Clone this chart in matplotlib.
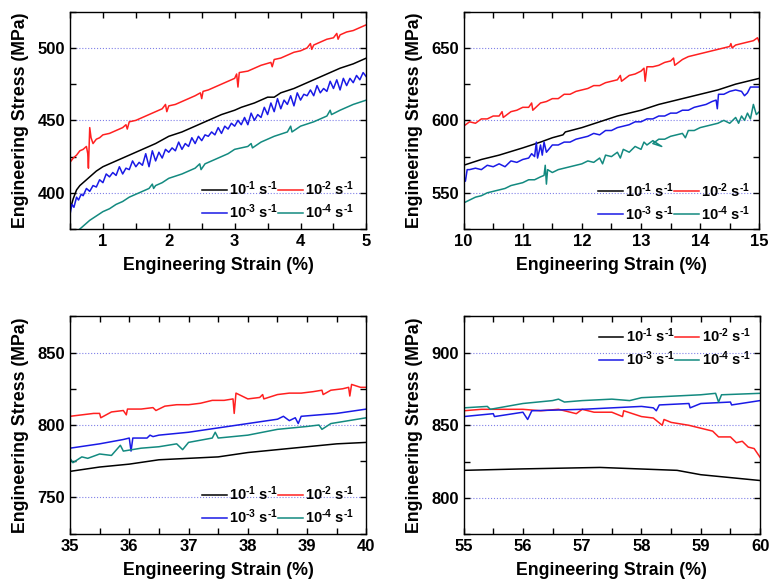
import matplotlib
matplotlib.use("Agg")
import matplotlib.pyplot as plt
from matplotlib.ticker import MultipleLocator

plt.rcParams['font.family'] = ['Liberation Sans', 'DejaVu Sans']
plt.rcParams['font.weight'] = 'bold'
plt.rcParams['mathtext.fontset'] = 'custom'
plt.rcParams['mathtext.rm'] = 'Liberation Sans:bold'
plt.rcParams['mathtext.default'] = 'rm'

# legend labels (strain rates)
rate_labels = [r'10$^{\text{-}1}$ s$^{\text{-}1}$', r'10$^{\text{-}2}$ s$^{\text{-}1}$',
               r'10$^{\text{-}3}$ s$^{\text{-}1}$', r'10$^{\text{-}4}$ s$^{\text{-}1}$']
colors = ['#000000', '#ff2020', '#1a1ae6', '#138a80']

# ---- panel 1: 0.5-5 % ----
p1_k1_x = [0.50, 0.55, 0.60, 0.65, 0.70, 0.80, 0.90, 1.00, 1.20, 1.40, 1.60, 1.80, 2.00, 2.20, 2.40,
           2.60, 2.80, 3.00, 3.05, 3.10, 3.30, 3.50, 3.60, 3.70, 3.90, 4.00, 4.20, 4.40, 4.60, 4.80, 5.00]
p1_k1_y = [388, 396, 402, 405, 407, 411, 415, 418, 422, 426, 430, 434, 439, 442, 446,
           450, 454, 457, 458, 459, 462, 466, 466, 469, 472, 474, 478, 482, 486, 489, 493]
p1_k2_x = [0.50, 0.55, 0.60, 0.65, 0.70, 0.75, 0.77, 0.78, 0.80, 0.82, 0.85, 0.90, 0.95, 1.00, 1.10,
           1.20, 1.30, 1.35, 1.37, 1.40, 1.50, 1.60, 1.70, 1.80, 1.90, 1.95, 1.97, 2.00, 2.10, 2.20,
           2.30, 2.40, 2.48, 2.50, 2.52, 2.60, 2.70, 2.80, 2.90, 3.00, 3.03, 3.05, 3.07, 3.20, 3.30,
           3.40, 3.55, 3.57, 3.60, 3.70, 3.80, 3.90, 4.00, 4.10, 4.15, 4.17, 4.20, 4.30, 4.40, 4.50,
           4.55, 4.57, 4.60, 4.70, 4.80, 4.90, 5.00]
p1_k2_y = [421, 424, 426, 429, 430, 432, 427, 417, 445, 438, 434, 437, 438, 440, 441,
           443, 445, 447, 444, 449, 450, 452, 454, 456, 458, 461, 456, 460, 461, 463,
           465, 467, 469, 465, 470, 471, 473, 475, 477, 479, 482, 473, 483, 484, 486,
           488, 490, 487, 492, 493, 495, 497, 498, 500, 503, 499, 502, 504, 506, 507,
           510, 506, 509, 511, 512, 514, 516]
p1_k3_x = [0.50, 0.53, 0.56, 0.60, 0.63, 0.67, 0.70, 0.75, 0.80, 0.85, 0.90, 0.95, 1.00, 1.05, 1.10,
           1.15, 1.20, 1.25, 1.30, 1.35, 1.40, 1.45, 1.50, 1.55, 1.60, 1.65, 1.70, 1.75, 1.80, 1.85,
           1.90, 1.95, 2.00, 2.05, 2.10, 2.15, 2.20, 2.25, 2.30, 2.35, 2.40, 2.45, 2.50, 2.55, 2.60,
           2.65, 2.70, 2.75, 2.80, 2.85, 2.90, 2.95, 3.00, 3.05, 3.10, 3.15, 3.20, 3.25, 3.30, 3.35,
           3.40, 3.45, 3.50, 3.55, 3.60, 3.65, 3.70, 3.75, 3.80, 3.85, 3.90, 3.95, 4.00, 4.05, 4.10,
           4.15, 4.20, 4.25, 4.30, 4.35, 4.40, 4.45, 4.50, 4.55, 4.60, 4.65, 4.70, 4.75, 4.80, 4.85,
           4.90, 4.95, 5.00]
p1_k3_y = [385, 392, 390, 397, 395, 399, 398, 403, 401, 405, 404, 409, 407, 413, 411,
           414, 412, 418, 413, 417, 416, 422, 418, 421, 419, 427, 418, 429, 422, 428,
           424, 430, 428, 431, 429, 435, 430, 434, 432, 438, 434, 439, 436, 440, 439,
           442, 440, 445, 441, 446, 444, 448, 446, 450, 447, 452, 447, 455, 450, 454,
           452, 459, 454, 462, 456, 465, 458, 464, 461, 467, 460, 469, 464, 468, 467,
           471, 467, 474, 469, 472, 470, 477, 472, 478, 471, 479, 474, 479, 476, 481,
           478, 483, 480]
p1_k4_x = [0.65, 0.70, 0.80, 0.90, 1.00, 1.10, 1.20, 1.30, 1.40, 1.50, 1.60, 1.70, 1.75, 1.77, 1.80,
           1.90, 2.00, 2.20, 2.40, 2.47, 2.49, 2.55, 2.70, 2.90, 3.00, 3.20, 3.25, 3.27, 3.40, 3.60,
           3.80, 3.85, 3.87, 4.00, 4.20, 4.40, 4.45, 4.47, 4.60, 4.80, 5.00]
p1_k4_y = [375, 377, 381, 384, 387, 389, 392, 394, 397, 399, 401, 403, 406, 403, 405,
           407, 410, 413, 417, 420, 416, 420, 423, 427, 430, 432, 434, 431, 435, 439,
           442, 446, 442, 446, 449, 453, 457, 454, 457, 461, 464]

# ---- panel 2: 10-15 % ----
p2_k1_x = [10.0, 10.3, 10.6, 11.0, 11.3, 11.5, 11.68, 11.72, 12.0, 12.3, 12.6, 13.0, 13.3, 13.6,
           14.0, 14.3, 14.6, 15.0]
p2_k1_y = [569, 573, 576, 581, 585, 588, 590, 592, 595, 599, 603, 607, 611, 614,
           618, 621, 625, 629]
p2_k2_x = [10.0, 10.1, 10.2, 10.3, 10.4, 10.5, 10.6, 10.65, 10.67, 10.8, 10.9, 11.0, 11.1, 11.15,
           11.17, 11.3, 11.4, 11.5, 11.6, 11.7, 11.8, 11.9, 12.0, 12.1, 12.2, 12.3, 12.4, 12.5,
           12.6, 12.65, 12.67, 12.8, 12.9, 13.0, 13.05, 13.07, 13.1, 13.2, 13.3, 13.4, 13.5, 13.55,
           13.57, 13.7, 13.8, 13.9, 14.0, 14.1, 14.2, 14.3, 14.4, 14.5, 14.52, 14.54, 14.6, 14.7,
           14.8, 14.9, 14.97, 15.0]
p2_k2_y = [596, 599, 598, 601, 601, 603, 603, 606, 602, 606, 607, 609, 609, 612,
           607, 612, 613, 615, 615, 618, 618, 620, 621, 622, 624, 624, 626, 627,
           628, 631, 627, 631, 632, 634, 636, 627, 637, 637, 638, 640, 641, 643,
           638, 642, 644, 645, 646, 647, 648, 649, 650, 651, 653, 650, 652, 653,
           654, 655, 657, 654]
p2_k3_x = [10.0, 10.03, 10.06, 10.1, 10.2, 10.3, 10.4, 10.5, 10.6, 10.7, 10.8, 10.9, 11.0, 11.1,
           11.15, 11.2, 11.23, 11.25, 11.28, 11.3, 11.33, 11.36, 11.4, 11.5, 11.6, 11.7, 11.8, 11.9,
           12.0, 12.1, 12.2, 12.3, 12.4, 12.5, 12.6, 12.7, 12.8, 12.9, 13.0, 13.1, 13.2, 13.3,
           13.4, 13.5, 13.6, 13.7, 13.8, 13.9, 14.0, 14.1, 14.2, 14.27, 14.29, 14.31, 14.4, 14.5,
           14.6, 14.7, 14.75, 14.8, 14.85, 14.9, 15.0]
p2_k3_y = [562, 558, 566, 566, 567, 566, 569, 568, 570, 568, 572, 571, 573, 574,
           577, 575, 585, 574, 579, 583, 576, 585, 578, 583, 583, 585, 585, 587,
           588, 589, 591, 590, 593, 593, 595, 596, 597, 599, 599, 601, 601, 603,
           603, 605, 605, 607, 607, 609, 610, 611, 613, 614, 608, 618, 618, 620,
           621, 620, 617, 619, 623, 623, 623]
p2_k4_x = [10.0, 10.1, 10.2, 10.3, 10.4, 10.5, 10.6, 10.7, 10.8, 10.9, 11.0, 11.1, 11.2, 11.3,
           11.36, 11.38, 11.4, 11.42, 11.5, 11.6, 11.7, 11.8, 11.9, 12.0, 12.1, 12.2, 12.3, 12.35,
           12.4, 12.5, 12.6, 12.65, 12.7, 12.8, 12.9, 13.0, 13.05, 13.1, 13.2, 13.35, 13.2, 13.3,
           13.4, 13.5, 13.6, 13.7, 13.75, 13.8, 13.9, 14.0, 14.1, 14.2, 14.3, 14.4, 14.5, 14.6,
           14.65, 14.7, 14.75, 14.8, 14.85, 14.9, 14.95, 15.0]
p2_k4_y = [543, 545, 547, 548, 550, 551, 552, 553, 555, 556, 557, 559, 559, 561,
           562, 569, 556, 566, 564, 566, 567, 568, 569, 570, 572, 571, 574, 570,
           576, 575, 578, 574, 580, 578, 582, 580, 585, 583, 586, 582, 584, 587,
           587, 589, 590, 591, 588, 593, 593, 595, 596, 597, 598, 600, 598, 602,
           598, 603, 600, 605, 601, 611, 604, 606]

# ---- panel 3: 35-40 % ----
p3_k1_x = [35.0, 35.5, 36.0, 36.5, 37.0, 37.5, 38.0, 38.5, 39.0, 39.5, 40.0]
p3_k1_y = [768, 771, 773, 776, 777, 778, 781, 783, 785, 787, 788]
p3_k2_x = [35.0, 35.2, 35.4, 35.5, 35.52, 35.7, 35.9, 35.95, 35.97, 36.2, 36.4, 36.45, 36.6, 36.8,
           37.0, 37.2, 37.4, 37.6, 37.75, 37.77, 37.8, 38.0, 38.2, 38.25, 38.27, 38.5, 38.7, 38.9,
           39.1, 39.25, 39.27, 39.4, 39.6, 39.7, 39.72, 39.75, 39.9, 40.0]
p3_k2_y = [806, 807, 808, 808, 805, 809, 810, 807, 811, 811, 812, 810, 813, 814,
           814, 815, 817, 817, 818, 808, 822, 818, 819, 821, 818, 821, 822, 822,
           823, 824, 821, 824, 825, 826, 820, 828, 826, 826]
p3_k3_x = [35.0, 35.5, 35.9, 36.0, 36.03, 36.06, 36.3, 36.35, 36.4, 36.5, 37.0, 37.5, 38.0, 38.5,
           38.6, 38.7, 38.8, 38.85, 38.9, 39.5, 40.0]
p3_k3_y = [784, 787, 790, 791, 782, 791, 791, 793, 792, 793, 795, 798, 801, 804,
           806, 803, 805, 801, 806, 808, 811]
p3_k4_x = [35.0, 35.05, 35.2, 35.3, 35.5, 35.7, 35.85, 35.9, 36.2, 36.5, 36.8, 36.9, 37.0, 37.4,
           37.45, 37.5, 38.0, 38.5, 39.0, 39.2, 39.25, 39.4, 40.0]
p3_k4_y = [777, 774, 778, 777, 780, 779, 786, 782, 784, 785, 787, 783, 788, 791,
           795, 791, 793, 797, 799, 800, 797, 801, 805]

# ---- panel 4: 55-60 % ----
p4_k1_x = [55.0, 56.0, 57.3, 58.6, 59.0, 60.0]
p4_k1_y = [819, 820, 821, 819, 816, 812]
p4_k2_x = [55.0, 55.3, 55.6, 56.0, 56.3, 56.6, 56.9, 57.0, 57.2, 57.5, 57.68, 57.7, 58.0, 58.2,
           58.35, 58.38, 58.5, 58.8, 59.0, 59.2, 59.3, 59.5, 59.6, 59.7, 59.8, 59.9, 60.0]
p4_k2_y = [860, 861, 861, 861, 860, 861, 858, 861, 859, 859, 856, 860, 856, 855,
           850, 854, 852, 850, 848, 846, 842, 842, 838, 839, 835, 834, 828]
p4_k3_x = [55.0, 55.5, 55.52, 56.0, 56.08, 56.15, 57.0, 57.5, 58.0, 58.2, 58.25, 58.3, 58.8,
           58.82, 59.0, 59.5, 59.52, 60.0]
p4_k3_y = [856, 858, 856, 859, 854, 860, 861, 862, 863, 862, 860, 864, 865,
           862, 865, 866, 864, 867]
p4_k4_x = [55.0, 55.4, 55.45, 56.0, 56.5, 56.6, 56.7, 57.0, 57.5, 57.8, 58.0, 58.5, 59.0, 59.25,
           59.3, 59.35, 60.0]
p4_k4_y = [862, 863, 861, 865, 867, 868, 866, 867, 868, 867, 869, 870, 871, 872,
           866, 871, 872]

panels = [
    dict(pos=[0.0904, 0.6085, 0.383, 0.3715], xlim=(0.5, 5), ylim=(375, 525),
         curves=[(p1_k1_x, p1_k1_y), (p1_k2_x, p1_k2_y), (p1_k3_x, p1_k3_y), (p1_k4_x, p1_k4_y)],
         loc='lower right', anchor=(0.958, 0.035)),
    dict(pos=[0.599, 0.6085, 0.382, 0.3715], xlim=(10, 15), ylim=(525, 675),
         curves=[(p2_k1_x, p2_k1_y), (p2_k2_x, p2_k2_y), (p2_k3_x, p2_k3_y), (p2_k4_x, p2_k4_y)],
         loc='lower right', anchor=(0.968, 0.03)),
    dict(pos=[0.0904, 0.0877, 0.383, 0.3716], xlim=(35, 40), ylim=(725, 875),
         curves=[(p3_k1_x, p3_k1_y), (p3_k2_x, p3_k2_y), (p3_k3_x, p3_k3_y), (p3_k4_x, p3_k4_y)],
         loc='lower right', anchor=(0.958, 0.035)),
    dict(pos=[0.599, 0.0867, 0.383, 0.3726], xlim=(55, 60), ylim=(775, 925),
         curves=[(p4_k1_x, p4_k1_y), (p4_k2_x, p4_k2_y), (p4_k3_x, p4_k3_y), (p4_k4_x, p4_k4_y)],
         loc='upper right', anchor=(0.968, 0.955)),
]

fig = plt.figure(figsize=(7.74, 5.85), dpi=100)

for p in panels:
    ax = fig.add_axes(p['pos'])
    lines = []
    for (x, y), c, lab in zip(p['curves'], colors, rate_labels):
        ln, = ax.plot(x, y, color=c, lw=1.1, label=lab)
        lines.append(ln)
    ax.set_xlim(*p['xlim'])
    ax.set_ylim(*p['ylim'])
    ax.xaxis.set_major_locator(MultipleLocator(1))
    ax.xaxis.set_minor_locator(MultipleLocator(0.5))
    ax.yaxis.set_major_locator(MultipleLocator(50))
    ax.yaxis.set_minor_locator(MultipleLocator(25))
    ax.tick_params(which='both', direction='in', top=True, right=True, labelsize=12, width=1.0)
    ax.tick_params(which='major', length=4)
    ax.tick_params(which='minor', length=4)
    for lbl in ax.get_xticklabels() + ax.get_yticklabels():
        lbl.set_fontweight('bold')
    ax.grid(axis='y', which='major', linestyle=':', color='#8080e8', lw=0.8)
    for s in ax.spines.values():
        s.set_linewidth(1.0)
    ax.set_xlabel('Engineering Strain (%)', fontsize=12.8, fontweight='bold', labelpad=6)
    ax.set_ylabel('Engineering Stress (MPa)', fontsize=12.8, fontweight='bold', labelpad=6)
    # two rows: 10^-1, 10^-2 on top, 10^-3, 10^-4 below (columns fill first)
    order = [0, 2, 1, 3]
    ax.legend([lines[i] for i in order], [rate_labels[i] for i in order],
              loc=p['loc'], bbox_to_anchor=p['anchor'], ncol=2, frameon=False, fontsize=10.5,
              handlelength=1.7, handletextpad=0.15, columnspacing=0.0, labelspacing=0.3,
              borderaxespad=0.0, borderpad=0.0)

plt.savefig('out.png', dpi=100)
